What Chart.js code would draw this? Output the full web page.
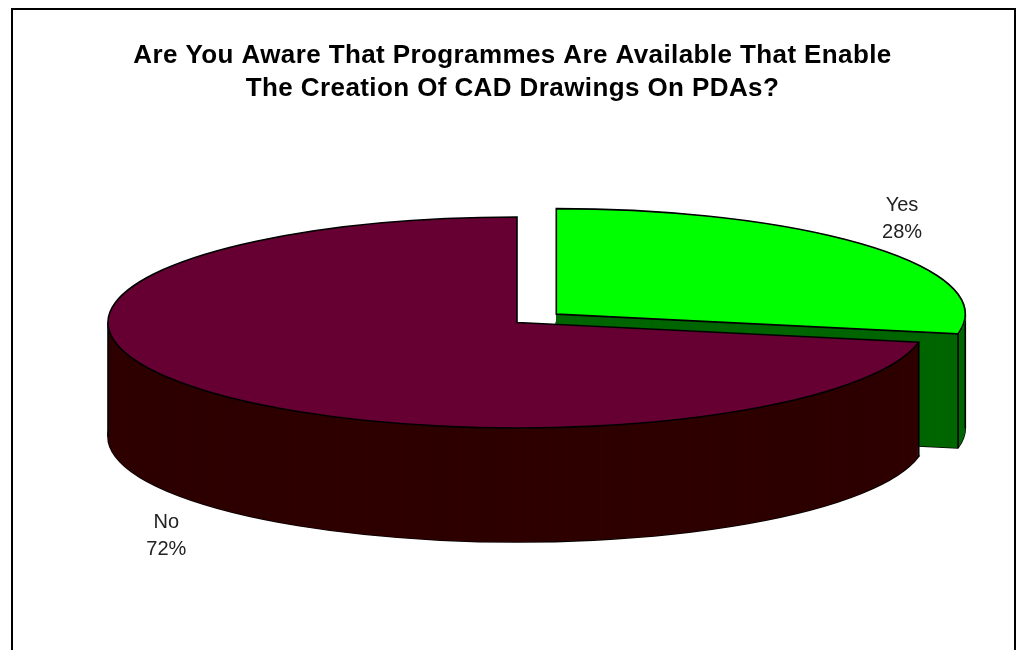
<!DOCTYPE html>
<html>
<head>
<meta charset="utf-8">
<title>CAD on PDAs</title>
<script src="https://cdn.jsdelivr.net/npm/chart.js@4/dist/chart.umd.min.js"></script>
<style>
  html,body{margin:0;padding:0;background:#fff;overflow:hidden}
  #frame{position:absolute;left:11px;top:8px;width:1001px;height:700px;border:2px solid #000}
  #pie{position:absolute;left:0;top:0}
</style>
</head>
<body>
<div id="frame"></div>
<canvas id="pie" width="1016" height="650"></canvas>
<script>
const TITLE = ['Are You Aware That Programmes Are Available That Enable', 'The Creation Of CAD Drawings On PDAs?']
const LABELS = ['Yes', 'No']
const VALUES = [28, 72]
const TOP_COLORS = ['#00ff00', '#660033']
const WALL_COLORS = ['#006600', '#2e0000']
const OFFSETS = [204, 0]

// look of the old 3d pie: squashed disc, extruded downwards
const CX = 517, CY = 322.5, RADIUS = 409, SQUASH = 105.5 / 409, DEPTH = 114
const TAU = Math.PI * 2

function place(ctx, el, dy) {
  const o = (el.options.offset || 0) / 4
  const half = (el.startAngle + el.endAngle) / 2
  ctx.translate(CX, CY + dy)
  ctx.scale(1, SQUASH)
  ctx.translate(-el.x, -el.y)
  ctx.translate(Math.cos(half) * o, Math.sin(half) * o)
}

function slicePath(ctx, el, dy) {
  ctx.save()
  place(ctx, el, dy)
  ctx.beginPath()
  ctx.moveTo(el.x, el.y)
  ctx.arc(el.x, el.y, el.outerRadius, el.startAngle, el.endAngle)
  ctx.closePath()
  ctx.restore()
}

function drawWall(ctx, el, color) {
  ctx.strokeStyle = '#000'
  ctx.lineWidth = 1.6
  slicePath(ctx, el, DEPTH)
  ctx.stroke()
  ctx.fillStyle = color
  for (let d = DEPTH; d >= 0; d--) {
    slicePath(ctx, el, d)
    ctx.fill()
  }
  // vertical edges on the front half of the slice
  const inSlice = a => {
    const span = el.endAngle - el.startAngle
    return ((a - el.startAngle) % TAU + TAU) % TAU <= span + 1e-6
  }
  const angles = [el.startAngle, el.endAngle, 0, Math.PI].filter(a => inSlice(a) && Math.sin(a) > -1e-6)
  angles.forEach(a => {
    ctx.save()
    place(ctx, el, 0)
    const m = ctx.getTransform()
    ctx.restore()
    const p = m.transformPoint(new DOMPoint(el.x + Math.cos(a) * el.outerRadius, el.y + Math.sin(a) * el.outerRadius))
    const r = ctx.getTransform().a
    ctx.beginPath()
    ctx.moveTo(p.x / r, p.y / r)
    ctx.lineTo(p.x / r, p.y / r + DEPTH)
    ctx.stroke()
  })
}

const pie3d = {
  id: 'pie3d',
  beforeDraw(chart) {
    // the title in the reference is set a bit wide
    chart.ctx.letterSpacing = '0.4px'
  },
  beforeDatasetDraw(chart, args) {
    const ctx = chart.ctx, arcs = args.meta.data
    ctx.letterSpacing = '0px'
    // back slice first, the big slice goes over its wall
    drawWall(ctx, arcs[0], WALL_COLORS[0])
    drawWall(ctx, arcs[1], WALL_COLORS[1])
    ctx.save()
    ctx.translate(CX, CY)
    ctx.scale(1, SQUASH)
    ctx.translate(-arcs[0].x, -arcs[0].y)
  },
  afterDatasetDraw(chart, args) {
    const ctx = chart.ctx, arcs = args.meta.data
    ctx.restore()
    ctx.strokeStyle = '#000'
    ctx.lineWidth = 1.6
    arcs.forEach(el => {
      slicePath(ctx, el, 0)
      ctx.stroke()
    })
    // category and percent labels outside the rim
    ctx.fillStyle = '#222'
    ctx.font = '20px "Liberation Sans"'
    ctx.textAlign = 'center'
    ctx.textBaseline = 'middle'
    arcs.forEach((el, i) => {
      const half = (el.startAngle + el.endAngle) / 2
      const o = (el.options.offset || 0) / 4
      const f = el.outerRadius * 1.105
      const x = CX + Math.cos(half) * (f + o) - 2.5
      const front = Math.sin(half) > 0
      const y = CY + Math.sin(half) * (f + o) * SQUASH + (front ? DEPTH + 25 : -21)
      ctx.fillText(LABELS[i], x, y - 13.5)
      ctx.fillText(VALUES[i] + '%', x, y + 13.5)
    })
  }
}

new Chart(document.getElementById('pie'), {
  type: 'pie',
  plugins: [pie3d],
  data: {
    labels: LABELS,
    datasets: [{
      data: VALUES,
      backgroundColor: TOP_COLORS,
      offset: OFFSETS,
      borderWidth: 0,
      clip: false
    }]
  },
  options: {
    responsive: false,
    animation: false,
    events: [],
    radius: RADIUS,
    layout: { padding: { left: 9 } },
    plugins: {
      legend: { display: false },
      tooltip: { enabled: false },
      title: {
        display: true,
        text: TITLE,
        color: '#000',
        font: { family: '"Liberation Sans"', size: 26, weight: 'bold', lineHeight: 1.27 },
        padding: { top: 39, bottom: 0 }
      }
    }
  }
})
</script>
</body>
</html>
